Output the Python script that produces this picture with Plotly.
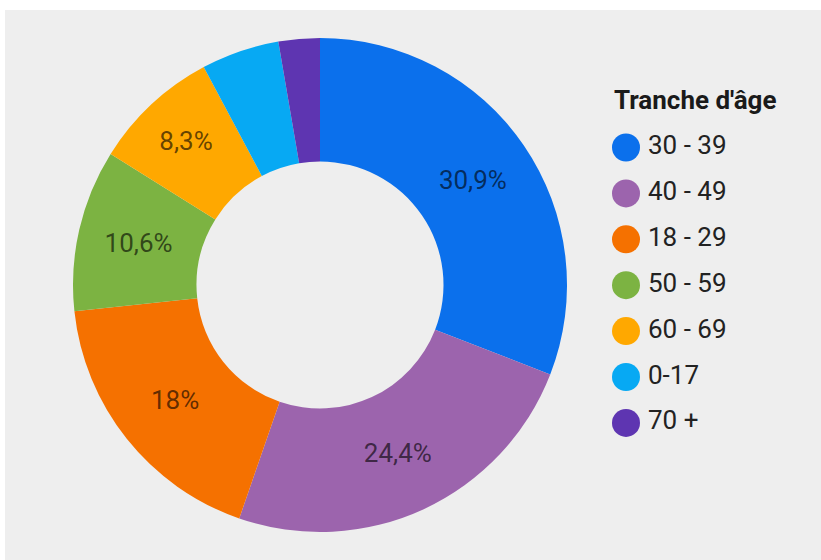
import plotly.graph_objects as go

labels = ["30 - 39", "40 - 49", "18 - 29", "50 - 59", "60 - 69", "0-17", "70 +"]
values = [30.9, 24.4, 18.0, 10.6, 8.3, 5.1, 2.7]
pct_text = ["30,9%", "24,4%", "18%", "10,6%", "8,3%", "", ""]
colors = ["#0b70ec", "#9c64ad", "#f57100", "#7cb342", "#ffa800", "#07a9f3", "#5e35b1"]
legend_title = "Tranche d'âge"

W, H = 821, 560
FONT = "Roboto, 'Open Sans', sans-serif"

fig = go.Figure()

fig.add_trace(go.Pie(
    labels=labels, values=values, text=pct_text,
    textinfo="text", textposition="inside", insidetextorientation="horizontal",
    sort=False, direction="clockwise", rotation=0, hole=0.5,
    marker=dict(colors=colors, line=dict(width=0)),
    textfont=dict(family=FONT, size=26, color="rgba(0,0,0,0.62)"),
    domain=dict(x=[73 / W, 567 / W], y=[1 - 532 / H, 1 - 38 / H]),
    showlegend=False, hoverinfo="label+percent",
))

# custom legend built from the categories (circle markers + labels)
idx = list(range(len(labels)))
fig.add_trace(go.Scatter(
    x=[0] * len(labels), y=idx, mode="markers",
    marker=dict(size=28, color=colors, line=dict(width=0)),
    showlegend=False, hoverinfo="skip", cliponaxis=False,
))
fig.add_trace(go.Scatter(
    x=[22] * len(labels), y=idx, mode="text",
    text=labels, textposition="middle right",
    textfont=dict(family=FONT, size=26, color="#222222"),
    showlegend=False, hoverinfo="skip", cliponaxis=False,
))

step = 45.9
y_top = -147.5 / step
y_bot = (H - 147.5) / step
fig.update_layout(
    width=W, height=H,
    margin=dict(l=0, r=0, t=0, b=0),
    paper_bgcolor="white", plot_bgcolor="rgba(0,0,0,0)",
    font=dict(family=FONT),
    xaxis=dict(range=[-626, W - 626], visible=False, fixedrange=True, domain=[0, 1]),
    yaxis=dict(range=[y_bot, y_top], visible=False, fixedrange=True, domain=[0, 1]),
    shapes=[dict(type="rect", xref="paper", yref="paper", x0=5 / W, x1=1, y0=0, y1=1 - 10 / H,
                 fillcolor="#eeeeee", line=dict(width=0), layer="below")],
    annotations=[dict(text="<b>" + legend_title + "</b>", xref="paper", yref="paper",
                      x=612 / W, y=1 - 100 / H, xanchor="left", yanchor="middle",
                      showarrow=False, font=dict(family=FONT, size=26, color="#1a1a1a"))],
)

fig.write_html("out.html", config={"displayModeBar": False},
               post_script="document.body.style.margin='0';document.body.style.overflow='hidden';")
